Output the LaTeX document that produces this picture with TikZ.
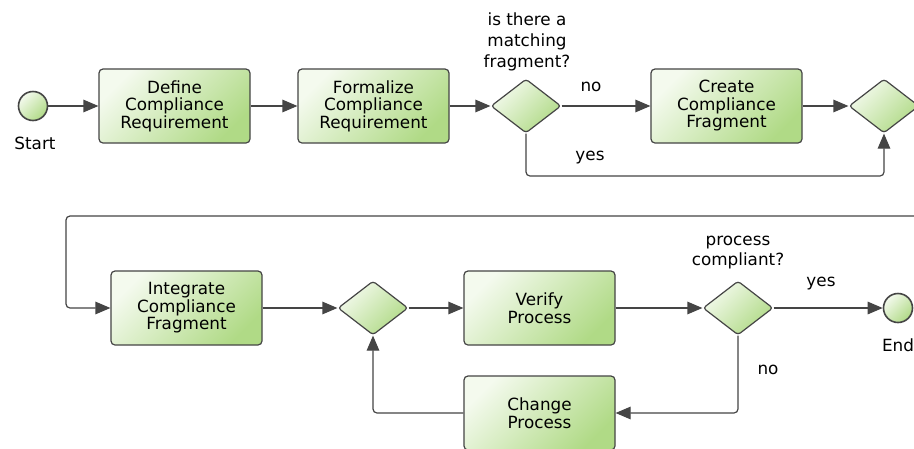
\documentclass[tikz,border=0pt]{standalone}
\usepackage{fontspec}
\setmainfont{DejaVu Sans}
\usetikzlibrary{shapes.geometric,arrows.meta}
\definecolor{lgreen}{HTML}{F4FAEE}
\definecolor{dgreen}{HTML}{B0DA86}
\definecolor{edge}{HTML}{454545}
\tikzset{
  every node/.style={font=\fontsize{16.8}{17.5}\selectfont, text=black},
  task/.style={draw=edge, line width=1.2pt, rounded corners=4pt, minimum width=151pt, minimum height=74pt, align=center, inner sep=0pt,
     top color=lgreen, bottom color=dgreen, shading angle=45},
  gate/.style={diamond, draw=edge, line width=1.2pt, rounded corners=3pt, minimum width=70pt, minimum height=54pt, inner sep=0pt,
     top color=lgreen, bottom color=dgreen, shading angle=45},
  event/.style={circle, draw=edge, line width=1.6pt, minimum size=29pt, inner sep=0pt,
     top color=lgreen, bottom color=dgreen, shading angle=45},
  flow/.style={draw=edge, line width=1.2pt, rounded corners=4pt, -{Triangle[length=15pt,width=12.5pt]}},
  lbl/.style={align=center, inner sep=0pt}
}
\begin{document}
\begin{tikzpicture}[x=1pt,y=-1pt]
\useasboundingbox (0,0) rectangle (914,448);
\clip (0,0) rectangle (914,448);
\fill[white] (0,0) rectangle (914,448);
% row 1
\node[event] (start) at (33,106) {};
\node[lbl] (startl) at (35,143) {Start};
\node[task] (def) at (174.5,106) {Define\\Compliance\\Requirement};
\node[task] (form) at (373.5,106) {Formalize\\Compliance\\Requirement};
\node[gate] (d1) at (526,106) {};
\node[lbl] (q1) at (527,42) {is there a\\[3.5pt]matching\\[3.5pt]fragment?};
\node[task] (create) at (726.5,106) {Create\\Compliance\\Fragment};
\node[gate] (d2) at (884,106) {};
\node[lbl] (no1) at (591,87) {no};
\node[lbl] (yes1) at (590,158) {yes};
% row 2
\node[task] (integ) at (186.5,308) {Integrate\\Compliance\\Fragment};
\node[gate] (d3) at (373,308) {};
\node[task] (verify) at (539.5,308) {Verify\\Process};
\node[gate] (d4) at (738,308) {};
\node[lbl] (q2) at (738,253) {process\\[2.5pt]compliant?};
\node[event] (end) at (898,308) {};
\node[lbl] (endl) at (898,345) {End};
\node[lbl] (yes2) at (821,284) {yes};
\node[lbl] (no2) at (768,370) {no};
\node[task] (change) at (539.5,413) {Change\\Process};
% coordinates
\coordinate (c1) at (940,106);
\coordinate (c2) at (940,216);
\coordinate (t1) at (66,216);
\coordinate (y1) at (526,176);
% flows
\draw[flow] (start) -- (def);
\draw[flow] (def) -- (form);
\draw[flow] (form) -- (d1);
\draw[flow] (d1) -- (create);
\draw[flow] (create) -- (d2);
\draw[flow] (d1.south) -- (y1) -| (d2.south);
\draw[flow] (d2.east) -- (c1) -- (c2) -- (t1) |- (integ.west);
\draw[flow] (integ) -- (d3);
\draw[flow] (d3) -- (verify);
\draw[flow] (verify) -- (d4);
\draw[flow] (d4) -- (end);
\draw[flow] (d4.south) |- (change.east);
\draw[flow] (change.west) -| (d3.south);
\end{tikzpicture}
\end{document}
